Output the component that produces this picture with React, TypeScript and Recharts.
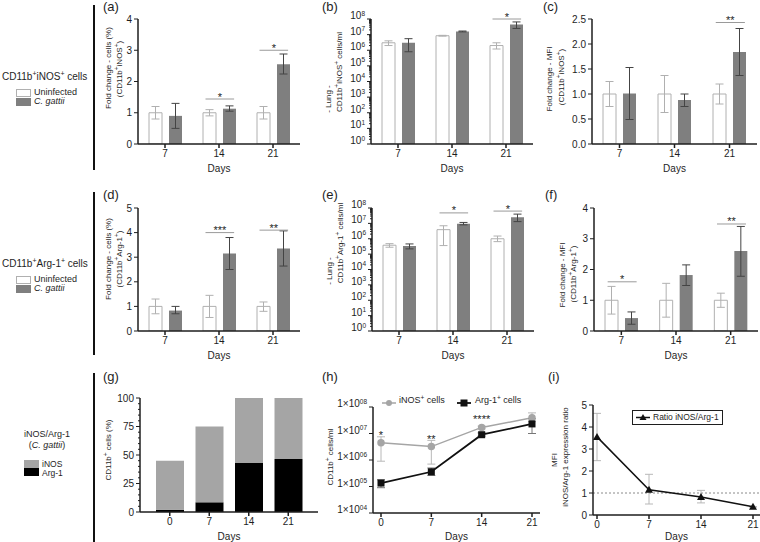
import React from "react";
import {
  BarChart,
  Bar,
  LineChart,
  Line,
  XAxis,
  YAxis,
  ErrorBar,
  ReferenceLine,
  LabelList,
} from "recharts";

const FONT = '"Liberation Sans", Arial, Helvetica, sans-serif';
const INK = "#1e1e1e";
const DARK_BAR = "#7f7f7f";
const PALE = "#b0b0b0";
const INOS_GREY = "#a5a5a5";
const TITLE_SIZE = 8;

const days = ["7", "14", "21"];

// (a) CD11b+iNOS+ cells, fold change %
const aUninf = [1, 1, 1];
const aUninfLow = [0.8, 0.9, 0.8];
const aUninfHigh = [1.2, 1.1, 1.2];
const aGattii = [0.9, 1.13, 2.55];
const aGattiiLow = [0.5, 1.05, 2.24];
const aGattiiHigh = [1.3, 1.22, 2.88];
const aSig = [
  { at: 1, y: 1.44, text: "*" },
  { at: 2, y: 3.0, text: "*" },
];
const aTicks = [0, 1, 2, 3, 4];

// (b) CD11b+iNOS+ cells/ml in lung
const bUninf = [3e6, 8.5e6, 2e6];
const bUninfLow = [2e6, 8e6, 1.2e6];
const bUninfHigh = [4e6, 9e6, 3e6];
const bGattii = [3e6, 1.6e7, 4.5e7];
const bGattiiLow = [8e5, 1.5e7, 2.5e7];
const bGattiiHigh = [5.5e6, 1.7e7, 6.5e7];
const bSig = [{ at: 2, y: 1e8, text: "*" }];

// (c) CD11b+iNOS+ MFI fold change
const cUninf = [1, 1, 1];
const cUninfLow = [0.75, 0.63, 0.8];
const cUninfHigh = [1.25, 1.37, 1.2];
const cGattii = [1.01, 0.88, 1.84];
const cGattiiLow = [0.49, 0.75, 1.37];
const cGattiiHigh = [1.53, 1.0, 2.31];
const cSig = [{ at: 2, y: 2.43, text: "**" }];
const cTicks = [0, 0.5, 1, 1.5, 2, 2.5];

// (d) CD11b+Arg-1+ cells, fold change %
const dUninf = [1, 1, 1];
const dUninfLow = [0.7, 0.55, 0.8];
const dUninfHigh = [1.3, 1.45, 1.18];
const dGattii = [0.83, 3.15, 3.35];
const dGattiiLow = [0.7, 2.5, 2.64];
const dGattiiHigh = [1.0, 3.8, 4.07];
const dSig = [
  { at: 1, y: 4.0, text: "***" },
  { at: 2, y: 4.1, text: "**" },
];
const dTicks = [0, 1, 2, 3, 4, 5];

// (e) CD11b+Arg-1+ cells/ml in lung
const eUninf = [3.8e5, 3.9e6, 1e6];
const eUninfLow = [2.8e5, 3.6e5, 6.5e5];
const eUninfHigh = [4.8e5, 7e6, 1.5e6];
const eGattii = [3.4e5, 9.5e6, 2.5e7];
const eGattiiLow = [2.2e5, 8e6, 1.3e7];
const eGattiiHigh = [4.6e5, 1.15e7, 4e7];
const eSig = [
  { at: 1, y: 4.8e7, text: "*" },
  { at: 2, y: 6.3e7, text: "*" },
];

// (f) CD11b+Arg-1+ MFI fold change
const fUninf = [1, 1, 1];
const fUninfLow = [0.55, 0.45, 0.77];
const fUninfHigh = [1.45, 1.55, 1.23];
const fGattii = [0.42, 1.82, 2.6];
const fGattiiLow = [0.22, 1.48, 1.78];
const fGattiiHigh = [0.62, 2.15, 3.4];
const fSig = [
  { at: 0, y: 1.6, text: "*" },
  { at: 2, y: 3.48, text: "**" },
];
const fTicks = [0, 1, 2, 3, 4];

const logDecades = [0, 1, 2, 3, 4, 5, 6, 7, 8];

// (g) iNOS / Arg-1 share of CD11b+ cells
const gDays = ["0", "7", "14", "21"];
const gArg = [2, 8.5, 43, 46.5];
const gInos = [43, 66.5, 57, 53.5];
const gTicks = [0, 5, 10, 15, 20, 25, 30, 35, 40, 45, 50, 55, 60, 65, 70, 75, 80, 85, 90, 95, 100];

// (h) CD11b+ cells/ml over time
const hDays = [0, 7, 14, 21];
const hInos = [4.5e6, 3.2e6, 1.7e7, 3.9e7];
const hInosLow = [9e5, 7e5, 1.5e7, 2.8e7];
const hInosHigh = [7.5e6, 5.5e6, 1.9e7, 6e7];
const hArg = [1.35e5, 3.6e5, 9e6, 2.3e7];
const hArgLow = [9e4, 2.6e5, 8e6, 1e7];
const hArgHigh = [1.8e5, 5e5, 1.05e7, 3.6e7];
const hSig = ["*", "**", "****", ""];
const hDecades = [4, 5, 6, 7, 8];

// (i) MFI ratio iNOS/Arg-1
const iDays = [0, 7, 14, 21];
const iRatio = [3.55, 1.15, 0.82, 0.37];
const iRatioLow = [2.47, 0.5, 0.55, 0.37];
const iRatioHigh = [4.62, 1.85, 1.12, 0.37];
const iTicks = [0, 1, 2, 3, 4, 5];

type Part = [string, boolean];
const t = (s: string): Part => [s, false];
const sp = (s: string): Part => [s, true];

function rich(parts: Part[]) {
  let prev = false;
  return parts.map(([s, sup], i) => {
    const dy = sup && !prev ? -3.5 : !sup && prev ? 3.5 : 0;
    prev = sup;
    return (
      <tspan key={i} dy={dy} fontSize={sup ? 6.5 : undefined}>
        {s}
      </tspan>
    );
  });
}

const pairRows = (
  u: number[],
  uLo: number[],
  uHi: number[],
  g: number[],
  gLo: number[],
  gHi: number[]
) =>
  days.map((day, i) => ({
    pos: i,
    day,
    u: u[i],
    uErr: [u[i] - uLo[i], uHi[i] - u[i]],
    g: g[i],
    gErr: [g[i] - gLo[i], gHi[i] - g[i]],
  }));

const logTicks = (decs: number[]) => {
  const out: number[] = [];
  decs.forEach((d, k) => {
    out.push(Math.pow(10, d));
    if (k < decs.length - 1) for (let m = 2; m < 10; m++) out.push(m * Math.pow(10, d));
  });
  return out;
};

const isDecade = (v: number) => Math.abs(Math.log10(v) - Math.round(Math.log10(v))) < 1e-9;

function yTick(major: (v: number) => boolean, label: (v: number) => React.ReactNode) {
  return (p: any) => {
    const v = p.payload.value;
    const m = major(v);
    return (
      <g>
        <line x1={p.x - (m ? 4 : 2)} x2={p.x} y1={p.y} y2={p.y} stroke={INK} strokeWidth={1} />
        {m && (
          <text x={p.x - 6} y={p.y} dy="0.35em" textAnchor="end" fontSize={10} fill={INK}>
            {label(v)}
          </text>
        )}
      </g>
    );
  };
}

const pow10Label = (v: number) => rich([t("10"), sp(String(Math.round(Math.log10(v))))]);
const sciLabel = (v: number) => rich([t("1×10"), sp(Math.round(Math.log10(v)).toString().padStart(2, "0"))]);

type TitleLine = { dx: number; cy: number; parts: Part[] };

function titleContent(lines: TitleLine[], plotY: number) {
  return () => (
    <g>
      {lines.map((l, i) => {
        const cx = 60 + l.dx;
        const cy = 20 + (l.cy - plotY);
        return (
          <text
            key={i}
            x={cx}
            y={cy}
            transform={`rotate(-90 ${cx} ${cy})`}
            textAnchor="middle"
            dominantBaseline="central"
            fontSize={TITLE_SIZE}
            fill={INK}
          >
            {rich(l.parts)}
          </text>
        );
      })}
    </g>
  );
}

const starLabel = (text: string) => (p: any) => {
  const vb = p.viewBox || {};
  const cx = (vb.x || 0) + (vb.width || 0) / 2;
  return (
    <text x={cx} y={(vb.y || 0) + 1.5} textAnchor="middle" fontSize={11} fill={INK}>
      {text}
    </text>
  );
};

const axisProps = { stroke: INK, strokeWidth: 1.5 };
const xTick = { fontSize: 10, fill: INK };
const daysLabel = { value: "Days", position: "insideBottom" as const, offset: 0, fontSize: 10, fill: INK };

type Sig = { at: number; y: number; text: string };

function BarPanel(props: {
  x: number;
  y: number;
  w: number;
  h: number;
  rows: any[];
  log?: boolean;
  ticks: number[];
  fmt?: (v: number) => string;
  sigs: Sig[];
  title: TitleLine[];
}) {
  const { x, y, w, h, rows, log, ticks, fmt, sigs, title } = props;
  const domain = [ticks[0], ticks[ticks.length - 1]];
  return (
    <div style={{ position: "absolute", left: x - 60, top: y - 20 }}>
      <BarChart
        width={60 + w + 2}
        height={20 + h + 30}
        data={rows}
        margin={{ top: 20, right: 2, bottom: 2, left: 0 }}
        barGap={7}
        barSize={13}
      >
        <XAxis
          dataKey="pos"
          type="number"
          domain={[-0.5, 2.5]}
          allowDataOverflow
          ticks={[0, 1, 2]}
          tickFormatter={(v) => days[v]}
          {...axisProps}
          tickSize={4}
          tick={xTick}
          height={28}
          label={daysLabel}
        />
        <YAxis
          {...axisProps}
          width={60}
          type="number"
          scale={log ? "log" : "linear"}
          domain={domain}
          allowDataOverflow
          ticks={ticks}
          interval={0}
          tickLine={false}
          tickSize={0}
          tickMargin={0}
          tick={yTick(log ? isDecade : () => true, log ? pow10Label : (v) => (fmt ? fmt(v) : String(v)))}
          label={titleContent(title, y)}
        />
        <Bar dataKey="u" fill="#ffffff" stroke={PALE} strokeWidth={1} isAnimationActive={false}>
          <ErrorBar dataKey="uErr" width={4} stroke={PALE} strokeWidth={1} direction="y" />
        </Bar>
        <Bar dataKey="g" fill={DARK_BAR} isAnimationActive={false}>
          <ErrorBar dataKey="gErr" width={4} stroke="#444" strokeWidth={1} direction="y" />
        </Bar>
        {sigs.map((s, i) => (
          <ReferenceLine
            key={i}
            ifOverflow="visible"
            segment={[
              { x: s.at - 0.25, y: s.y },
              { x: s.at + 0.28, y: s.y },
            ]}
            stroke="#9a9a9a"
            strokeWidth={1}
            label={{ position: "top", content: starLabel(s.text) }}
          />
        ))}
      </BarChart>
    </div>
  );
}

const gRows = gDays.map((day, i) => ({ day, arg: gArg[i], inos: gInos[i] }));
const hRows = hDays.map((day, i) => ({
  day,
  inos: hInos[i],
  inosErr: [hInos[i] - hInosLow[i], hInosHigh[i] - hInos[i]],
  arg: hArg[i],
  argErr: [hArg[i] - hArgLow[i], hArgHigh[i] - hArg[i]],
  sig: hSig[i],
}));
const iRows = iDays.map((day, i) => ({
  day,
  ratio: iRatio[i],
  err: [iRatio[i] - iRatioLow[i], iRatioHigh[i] - iRatio[i]],
}));

const SquareDot = (p: any) => (
  <rect key={p.index} x={p.cx - 3.5} y={p.cy - 3.5} width={7} height={7} fill="#111" />
);
const TriDot = (p: any) => (
  <path key={p.index} d={`M${p.cx},${p.cy - 4} L${p.cx + 4},${p.cy + 3} L${p.cx - 4},${p.cy + 3} Z`} fill="#111" />
);

const CD11b_iNOS: Part[] = [t("CD11b"), sp("+"), t("iNOS"), sp("+")];
const CD11b_Arg: Part[] = [t("CD11b"), sp("+"), t("Arg-1"), sp("+")];

function PanelLetter({ x, y, s }: { x: number; y: number; s: string }) {
  return <div style={{ position: "absolute", left: x, top: y - 8, fontSize: 13, lineHeight: "16px" }}>{s}</div>;
}

function Swatch({ x, y, fill, stroke }: { x: number; y: number; fill: string; stroke: string }) {
  return (
    <div
      style={{
        position: "absolute",
        left: x,
        top: y,
        width: 13,
        height: 6,
        background: fill,
        border: `1px solid ${stroke}`,
      }}
    />
  );
}

const supStyle: React.CSSProperties = { fontSize: 7, verticalAlign: "super", lineHeight: 0 };

function GroupLegend({ y, title }: { y: number; title: React.ReactNode }) {
  return (
    <>
      <div style={{ position: "absolute", left: 2, top: y - 7, fontSize: 10, lineHeight: "14px", whiteSpace: "nowrap" }}>
        {title}
      </div>
      <Swatch x={16} y={y + 12} fill="#ffffff" stroke={PALE} />
      <Swatch x={16} y={y + 21} fill={DARK_BAR} stroke={DARK_BAR} />
      <div style={{ position: "absolute", left: 34, top: y + 11, fontSize: 9, lineHeight: "8px" }}>Uninfected</div>
      <div style={{ position: "absolute", left: 34, top: y + 20, fontSize: 9, lineHeight: "8px", fontStyle: "italic" }}>
        C. gattii
      </div>
    </>
  );
}

export default function App() {
  return (
    <div
      style={{
        position: "absolute",
        left: 0,
        top: 0,
        width: 760,
        height: 542,
        background: "#fff",
        fontFamily: FONT,
        color: INK,
        overflow: "hidden",
      }}
    >
      {/* left column */}
      <GroupLegend
        y={77}
        title={
          <>
            CD11b<sup style={supStyle}>+</sup>iNOS<sup style={supStyle}>+</sup> cells
          </>
        }
      />
      <GroupLegend
        y={264}
        title={
          <>
            CD11b<sup style={supStyle}>+</sup>Arg-1<sup style={supStyle}>+</sup> cells
          </>
        }
      />
      <div style={{ position: "absolute", left: 7, top: 429, width: 80, textAlign: "center", fontSize: 9, lineHeight: "11px" }}>
        iNOS/Arg-1
        <br />(<i>C. gattii</i>)
      </div>
      <Swatch x={24} y={460} fill={INOS_GREY} stroke={INOS_GREY} />
      <Swatch x={24} y={468} fill="#000" stroke="#000" />
      <div style={{ position: "absolute", left: 42, top: 460, fontSize: 8.5, lineHeight: "8px" }}>iNOS</div>
      <div style={{ position: "absolute", left: 42, top: 469, fontSize: 8.5, lineHeight: "8px" }}>Arg-1</div>

      {[
        [5, 170],
        [192, 355],
        [373, 542],
      ].map(([a, b], i) => (
        <div key={i} style={{ position: "absolute", left: 93, top: a, width: 2, height: b - a, background: "#111" }} />
      ))}

      <PanelLetter x={103} y={7} s="(a)" />
      <PanelLetter x={322} y={7} s="(b)" />
      <PanelLetter x={543} y={7} s="(c)" />
      <PanelLetter x={103} y={195} s="(d)" />
      <PanelLetter x={322} y={195} s="(e)" />
      <PanelLetter x={545} y={195} s="(f)" />
      <PanelLetter x={103} y={377} s="(g)" />
      <PanelLetter x={322} y={377} s="(h)" />
      <PanelLetter x={548} y={377} s="(i)" />

      <BarPanel
        x={138}
        y={19}
        w={162}
        h={125}
        rows={pairRows(aUninf, aUninfLow, aUninfHigh, aGattii, aGattiiLow, aGattiiHigh)}
        ticks={aTicks}
        sigs={aSig}
        title={[
          { dx: -30, cy: 68, parts: [t("Fold change - cells (%)")] },
          { dx: -19, cy: 69, parts: [t("("), ...CD11b_iNOS, t(")")] },
        ]}
      />
      <BarPanel
        x={371}
        y={19}
        w={162}
        h={125}
        log
        rows={pairRows(bUninf, bUninfLow, bUninfHigh, bGattii, bGattiiLow, bGattiiHigh)}
        ticks={logTicks(logDecades)}
        sigs={bSig}
        title={[
          { dx: -43, cy: 99, parts: [t("- Lung -")] },
          { dx: -32, cy: 72, parts: [...CD11b_iNOS, t(" cells/ml")] },
        ]}
      />
      <BarPanel
        x={592}
        y={19}
        w={165}
        h={125}
        rows={pairRows(cUninf, cUninfLow, cUninfHigh, cGattii, cGattiiLow, cGattiiHigh)}
        ticks={cTicks}
        fmt={(v) => v.toFixed(1)}
        sigs={cSig}
        title={[
          { dx: -43, cy: 79, parts: [t("Fold change - MFI")] },
          { dx: -31, cy: 77, parts: [t("("), ...CD11b_iNOS, t(")")] },
        ]}
      />
      <BarPanel
        x={138}
        y={208}
        w={162}
        h={123}
        rows={pairRows(dUninf, dUninfLow, dUninfHigh, dGattii, dGattiiLow, dGattiiHigh)}
        ticks={dTicks}
        sigs={dSig}
        title={[
          { dx: -30, cy: 259, parts: [t("Fold change - cells (%)")] },
          { dx: -19, cy: 259, parts: [t("("), ...CD11b_Arg, t(")")] },
        ]}
      />
      <BarPanel
        x={372}
        y={208}
        w={162}
        h={123}
        log
        rows={pairRows(eUninf, eUninfLow, eUninfHigh, eGattii, eGattiiLow, eGattiiHigh)}
        ticks={logTicks(logDecades)}
        sigs={eSig}
        title={[
          { dx: -43, cy: 271, parts: [t("- Lung -")] },
          { dx: -32, cy: 243, parts: [...CD11b_Arg, t(" cells/ml")] },
        ]}
      />
      <BarPanel
        x={594}
        y={208}
        w={164}
        h={123}
        rows={pairRows(fUninf, fUninfLow, fUninfHigh, fGattii, fGattiiLow, fGattiiHigh)}
        ticks={fTicks}
        sigs={fSig}
        title={[
          { dx: -32, cy: 275, parts: [t("Fold change - MFI")] },
          { dx: -21, cy: 274, parts: [t("("), ...CD11b_Arg, t(")")] },
        ]}
      />

      {/* (g) stacked share */}
      <div style={{ position: "absolute", left: 140 - 60, top: 398 - 20 }}>
        <BarChart width={60 + 178 + 2} height={20 + 114 + 30} data={gRows} margin={{ top: 20, right: 2, bottom: 2, left: 0 }} barSize={28}>
          <XAxis dataKey="day" {...axisProps} tickSize={4} tick={xTick} height={28} label={daysLabel} padding={{ left: 10, right: 10 }} />
          <YAxis
            {...axisProps}
            width={60}
            type="number"
            domain={[0, 100]}
            ticks={gTicks}
            interval={0}
            tickLine={false}
            tickSize={0}
            tickMargin={0}
            tick={yTick((v) => v % 25 === 0, (v) => String(v))}
            label={titleContent([{ dx: -32, cy: 450, parts: [t("CD11b"), sp("+"), t(" cells (%)")] }], 398)}
          />
          <Bar dataKey="arg" stackId="s" fill="#000" isAnimationActive={false} />
          <Bar dataKey="inos" stackId="s" fill={INOS_GREY} isAnimationActive={false} />
        </BarChart>
      </div>

      {/* (h) cells/ml over time */}
      <div style={{ position: "absolute", left: 373 - 60, top: 407 - 20 }}>
        <LineChart width={60 + 167 + 2} height={20 + 106 + 29} data={hRows} margin={{ top: 20, right: 2, bottom: 2, left: 0 }}>
          <XAxis
            dataKey="day"
            type="number"
            domain={[0, 21]}
            ticks={hDays}
            padding={{ left: 8, right: 8 }}
            {...axisProps}
            tickSize={4}
            tick={xTick}
            height={27}
            label={daysLabel}
          />
          <YAxis
            {...axisProps}
            width={60}
            type="number"
            scale="log"
            domain={[1e4, 1e8]}
            allowDataOverflow
            ticks={hDecades.map((d) => Math.pow(10, d))}
            interval={0}
            tickLine={false}
            tickSize={0}
            tickMargin={0}
            tick={yTick(() => true, sciLabel)}
            label={titleContent([{ dx: -43, cy: 457, parts: [t("CD11b"), sp("+"), t(" cells/ml")] }], 407)}
          />
          <Line
            dataKey="inos"
            stroke={INOS_GREY}
            strokeWidth={1.5}
            dot={{ r: 3, fill: INOS_GREY, stroke: INOS_GREY }}
            isAnimationActive={false}
          >
            <ErrorBar dataKey="inosErr" width={4} stroke="#b8b8b8" strokeWidth={1} direction="y" />
            <LabelList dataKey="sig" position="top" offset={4} fontSize={11} fill={INK} />
          </Line>
          <Line dataKey="arg" stroke="#111" strokeWidth={1.8} dot={SquareDot} isAnimationActive={false}>
            <ErrorBar dataKey="argErr" width={4} stroke="#777" strokeWidth={1} direction="y" />
          </Line>
        </LineChart>
      </div>
      <svg style={{ position: "absolute", left: 380, top: 394 }} width={160} height={18}>
        <line x1={2} x2={16} y1={9} y2={9} stroke={INOS_GREY} strokeWidth={1.5} />
        <circle cx={9} cy={9} r={3} fill={INOS_GREY} />
        <text x={19} y={9} dy="0.35em" fontSize={9} fill={INK}>
          {rich([t("iNOS"), sp("+"), t(" cells")])}
        </text>
        <line x1={77} x2={91} y1={9} y2={9} stroke="#111" strokeWidth={1.8} />
        <rect x={80.5} y={5.5} width={7} height={7} fill="#111" />
        <text x={95} y={9} dy="0.35em" fontSize={9} fill={INK}>
          {rich([t("Arg-1"), sp("+"), t(" cells")])}
        </text>
      </svg>

      {/* (i) MFI ratio */}
      <div style={{ position: "absolute", left: 593 - 60, top: 405 - 20 }}>
        <LineChart width={60 + 167} height={20 + 110 + 27} data={iRows} margin={{ top: 20, right: 0, bottom: 2, left: 0 }}>
          <XAxis
            dataKey="day"
            type="number"
            domain={[0, 21]}
            ticks={iDays}
            padding={{ left: 4, right: 7 }}
            {...axisProps}
            tickSize={4}
            tick={xTick}
            height={25}
            label={daysLabel}
          />
          <YAxis
            {...axisProps}
            width={60}
            type="number"
            domain={[0, 5]}
            ticks={iTicks}
            interval={0}
            tickLine={false}
            tickSize={0}
            tickMargin={0}
            tick={yTick(() => true, (v) => String(v))}
            label={titleContent(
              [
                { dx: -39, cy: 460, parts: [t("MFI")] },
                { dx: -28, cy: 457, parts: [t("iNOS/Arg-1 expression ratio")] },
              ],
              405
            )}
          />
          <ReferenceLine y={1} stroke="#8a8a8a" strokeDasharray="2 2" strokeWidth={1} />
          <Line dataKey="ratio" stroke="#111" strokeWidth={1.5} dot={TriDot} isAnimationActive={false}>
            <ErrorBar dataKey="err" width={4} stroke="#b8b8b8" strokeWidth={1} direction="y" />
          </Line>
        </LineChart>
      </div>
      <div
        style={{
          position: "absolute",
          left: 632,
          top: 410,
          width: 89,
          height: 13,
          border: `1px solid ${INK}`,
          background: "#fff",
        }}
      >
        <svg width={89} height={13} style={{ display: "block" }}>
          <line x1={3} x2={17} y1={6.5} y2={6.5} stroke="#111" strokeWidth={1.5} />
          <path d="M10,3 L13.5,9 L6.5,9 Z" fill="#111" />
          <text x={20} y={6.5} dy="0.35em" fontSize={8.5} fill={INK}>
            Ratio iNOS/Arg-1
          </text>
        </svg>
      </div>
    </div>
  );
}
